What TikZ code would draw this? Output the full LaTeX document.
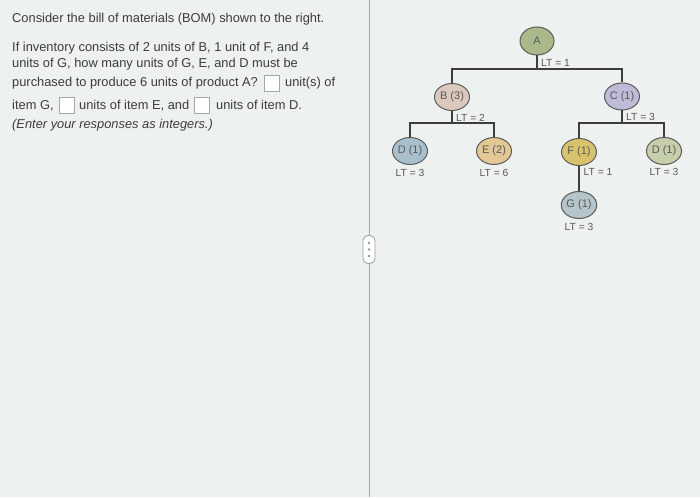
\documentclass[tikz,border=0pt]{standalone}
\usepackage{fontspec}
\setmainfont{Liberation Sans}
\usetikzlibrary{shapes.geometric}
\definecolor{bg}{HTML}{EDF1EF}
\definecolor{txt}{HTML}{3C3C3C}
\definecolor{edge}{HTML}{3E3E3E}
\definecolor{cA}{HTML}{A9B98A}
\definecolor{cB}{HTML}{DCC9BD}
\definecolor{cC}{HTML}{BCBCD8}
\definecolor{cDl}{HTML}{A9C0CC}
\definecolor{cE}{HTML}{E3C795}
\definecolor{cF}{HTML}{D9C26E}
\definecolor{cDr}{HTML}{C5CFA9}
\definecolor{cG}{HTML}{B4C5CC}
\tikzset{
  qtext/.style={anchor=base west, inner sep=0pt, text=txt, font=\fontsize{12.85}{15}\selectfont},
  ansbox/.style={draw=gray!70, fill=white, line width=0.6pt, minimum width=15pt, minimum height=16pt, inner sep=0pt, anchor=north west},
  part/.style={ellipse, draw=edge!85, line width=1pt, minimum width=35pt, minimum height=27pt, inner sep=0pt, text=txt!85, font=\fontsize{11}{12}\selectfont},
  lt/.style={inner sep=0pt, text=txt!85, font=\fontsize{10.3}{11}\selectfont},
  link/.style={draw=edge, line width=1.6pt},
}
\begin{document}
\begin{tikzpicture}[x=1pt,y=-1pt]
\fill[bg] (0,0) rectangle (700,497);
\useasboundingbox (0,0) rectangle (700,497);
% divider
\draw[gray!70, line width=1pt] (369,0) -- (369,497);
\node[draw=gray!75, fill=white, rounded corners=5pt, line width=0.8pt, minimum width=12pt, minimum height=28pt, inner sep=0pt] (handle) at (369,249.5) {};
\foreach \yy in {243,249.5,256} \fill[gray!80] (369,\yy) circle (1.3pt);
% question text
\node[qtext] (t1) at (12,23) {Consider the bill of materials (BOM) shown to the right.};
\node[qtext] (t2) at (12,52) {If inventory consists of 2 units of B, 1 unit of F, and 4};
\node[qtext] (t3) at (12,68) {units of G, how many units of G, E, and D must be};
\node[qtext] (t4) at (12,87) {purchased to produce 6 units of product A?};
\node[ansbox] (b1) at (263.5,75) {};
\node[qtext] (t4b) at (285,87) {unit(s) of};
\node[qtext] (t5) at (12,110) {item G,};
\node[ansbox] (b2) at (58.5,97) {};
\node[qtext] (t5b) at (79,110) {units of item E, and};
\node[ansbox] (b3) at (193.5,97) {};
\node[qtext] (t5c) at (216,110) {units of item D.};
\node[qtext, font=\fontsize{12.85}{15}\selectfont\itshape] (t6) at (12,129) {(Enter your responses as integers.)};
% BOM tree
\node[part, fill=cA, minimum width=34pt, minimum height=28pt] (A) at (537,41) {A};
\node[part, fill=cB] (B) at (452,97) {B (3)};
\node[part, fill=cC] (C) at (622,96.5) {C (1)};
\node[part, fill=cDl] (D1) at (410,151) {D (1)};
\node[part, fill=cE] (E) at (494,151) {E (2)};
\node[part, fill=cF] (F) at (579,152) {F (1)};
\node[part, fill=cDr] (D2) at (664,151) {D (1)};
\node[part, fill=cG] (G) at (579,205) {G (1)};
\coordinate (jA) at (537,69);
\coordinate (jB) at (452,123);
\coordinate (jC) at (622,123);
\draw[link] (A.south) -- (jA);
\draw[link] (B.north) |- (jA) -| (C.north);
\draw[link] (B.south) -- (jB);
\draw[link] (D1.north) |- (jB) -| (E.north);
\draw[link] (C.south) -- (jC);
\draw[link] (F.north) |- (jC) -| (D2.north);
\draw[link] (F.south) -- (G.north);
% lead times
\node[lt, anchor=west] (ltA) at (541,62.5) {LT = 1};
\node[lt, anchor=west] (ltB) at (456,118) {LT = 2};
\node[lt, anchor=west] (ltC) at (626,117) {LT = 3};
\node[lt] (ltD1) at (410,173) {LT = 3};
\node[lt] (ltE) at (494,173) {LT = 6};
\node[lt] (ltF) at (598,172) {LT = 1};
\node[lt] (ltD2) at (664,172) {LT = 3};
\node[lt] (ltG) at (579,227) {LT = 3};
\end{tikzpicture}
\end{document}
